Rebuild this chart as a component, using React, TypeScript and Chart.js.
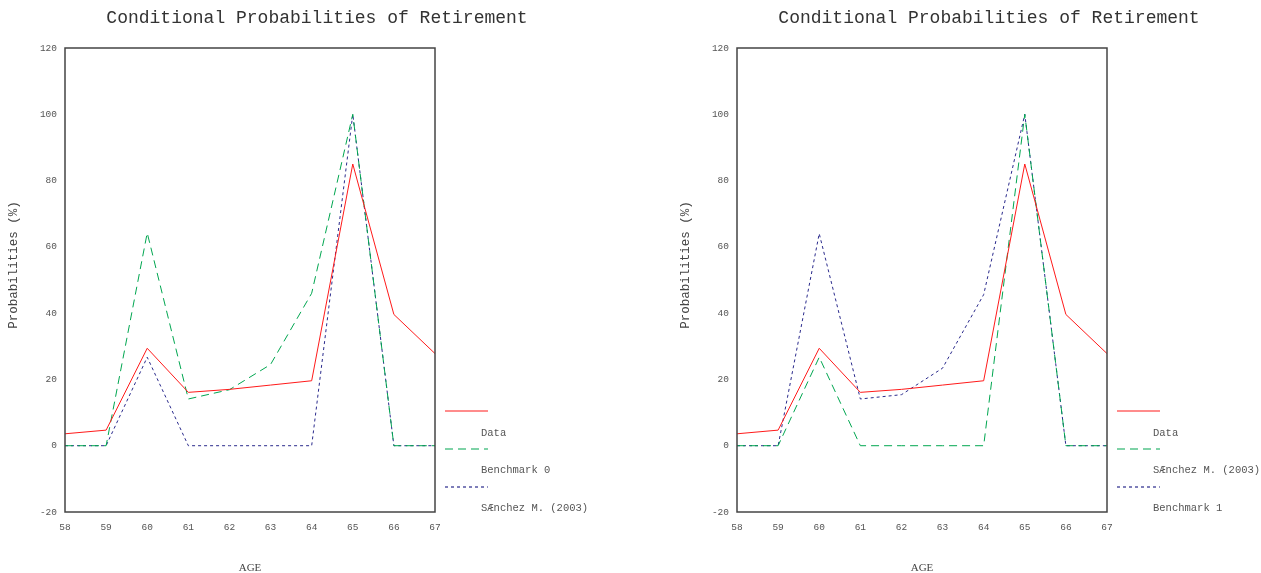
import React, { useEffect, useRef } from "react";
import { Chart, registerables } from "chart.js";

Chart.register(...registerables);

const ages = ["58", "59", "60", "61", "62", "63", "64", "65", "66", "67"];
const dataObserved = [3.6, 4.7, 29.4, 16.1, 17.0, 18.3, 19.6, 85.0, 39.6, 27.8];
const benchmark0 = [0, 0, 64.2, 14.1, 16.9, 24.5, 46.0, 100, 0, 0];
const sanchez = [0, 0, 26.7, 0, 0, 0, 0, 100, 0, 0];
const benchmark1 = [0, 0, 64.0, 14.1, 15.4, 23.4, 45.6, 100, 0, 0];

const chartTitle = "Conditional Probabilities of Retirement";
const yTitle = "Probabilities (%)";
const xTitle = "AGE";
const yMin = -20;
const yMax = 120;
const yStep = 20;

const RED = "#ff1a1a";
const GREEN = "#00a650";
const BLUE = "#2a2a8c";
const MONO = "'Liberation Mono', 'Courier New', monospace";

type Series = { label: string; values: number[]; color: string; dash: number[] };

const leftSeries: Series[] = [
  { label: "Data", values: dataObserved, color: RED, dash: [] },
  { label: "Benchmark 0", values: benchmark0, color: GREEN, dash: [8, 5] },
  { label: "SÆnchez M. (2003)", values: sanchez, color: BLUE, dash: [3, 3] },
];
const rightSeries: Series[] = [
  { label: "Data", values: dataObserved, color: RED, dash: [] },
  { label: "SÆnchez M. (2003)", values: sanchez, color: GREEN, dash: [8, 5] },
  { label: "Benchmark 1", values: benchmark1, color: BLUE, dash: [3, 3] },
];

function makeDecor(series: Series[]) {
  return {
    id: "decor",
    afterDraw(chart: any) {
      const ctx = chart.ctx as CanvasRenderingContext2D;
      const a = chart.chartArea;
      ctx.save();
      // box
      ctx.strokeStyle = "#444";
      ctx.lineWidth = 1.5;
      ctx.setLineDash([]);
      ctx.strokeRect(a.left, a.top, a.right - a.left, a.bottom - a.top);
      // title
      ctx.fillStyle = "#333";
      ctx.font = `18px ${MONO}`;
      ctx.textAlign = "center";
      ctx.textBaseline = "middle";
      ctx.fillText(chartTitle, 317, 18);
      // x title
      ctx.font = `11px 'Liberation Serif', serif`;
      ctx.fillStyle = "#444";
      ctx.fillText(xTitle, (a.left + a.right) / 2, 568);
      // y title
      ctx.save();
      ctx.translate(14, 265);
      ctx.rotate(-Math.PI / 2);
      ctx.font = `12.5px ${MONO}`;
      ctx.fillText(yTitle, 0, 0);
      ctx.restore();
      // legend
      const lineY = [411, 449, 487];
      const textY = [433, 470, 508];
      series.forEach((s, i) => {
        ctx.strokeStyle = s.color;
        ctx.lineWidth = 1.2;
        ctx.setLineDash(s.dash);
        ctx.beginPath();
        ctx.moveTo(445, lineY[i]);
        ctx.lineTo(488, lineY[i]);
        ctx.stroke();
        ctx.setLineDash([]);
        ctx.fillStyle = "#555";
        ctx.font = `10.5px ${MONO}`;
        ctx.textAlign = "left";
        ctx.textBaseline = "middle";
        ctx.fillText(s.label, 481, textY[i]);
      });
      ctx.restore();
    },
  };
}

function Panel({ series, left }: { series: Series[]; left: number }) {
  const ref = useRef<HTMLCanvasElement>(null);
  useEffect(() => {
    if (!ref.current) return;
    const chart = new Chart(ref.current, {
      type: "line",
      data: {
        labels: ages,
        datasets: series.map((s) => ({
          label: s.label,
          data: s.values,
          borderColor: s.color,
          backgroundColor: s.color,
          borderDash: s.dash,
          borderWidth: 1,
          pointRadius: 0,
          tension: 0,
          fill: false,
        })),
      },
      options: {
        responsive: false,
        animation: false,
        layout: { padding: { left: 0, right: 154, top: 48, bottom: 0 } },
        plugins: {
          legend: { display: false },
          title: { display: false },
          tooltip: { enabled: false },
        },
        scales: {
          x: {
            type: "category",
            offset: false,
            grid: { display: false },
            border: { display: false },
            ticks: {
              color: "#555",
              font: { family: MONO, size: 9.5 },
              padding: 2,
              maxRotation: 0,
              autoSkip: false,
            },
            afterFit(scale: any) {
              scale.height = 61;
            },
          },
          y: {
            type: "linear",
            min: yMin,
            max: yMax,
            grid: { display: false },
            border: { display: false },
            ticks: {
              stepSize: yStep,
              color: "#555",
              font: { family: MONO, size: 9.5 },
              padding: 0,
            },
            afterFit(scale: any) {
              scale.width = 65;
            },
          },
        },
      },
      plugins: [makeDecor(series)],
    } as any);
    return () => chart.destroy();
  }, [series]);
  return (
    <canvas
      ref={ref}
      width={589}
      height={573}
      style={{ position: "absolute", left, top: 0, width: 589, height: 573 }}
    />
  );
}

export default function App() {
  return (
    <div style={{ position: "absolute", left: 0, top: 0, width: 1261, height: 573, background: "#fff", overflow: "hidden" }}>
      <Panel series={leftSeries} left={0} />
      <Panel series={rightSeries} left={672} />
    </div>
  );
}
